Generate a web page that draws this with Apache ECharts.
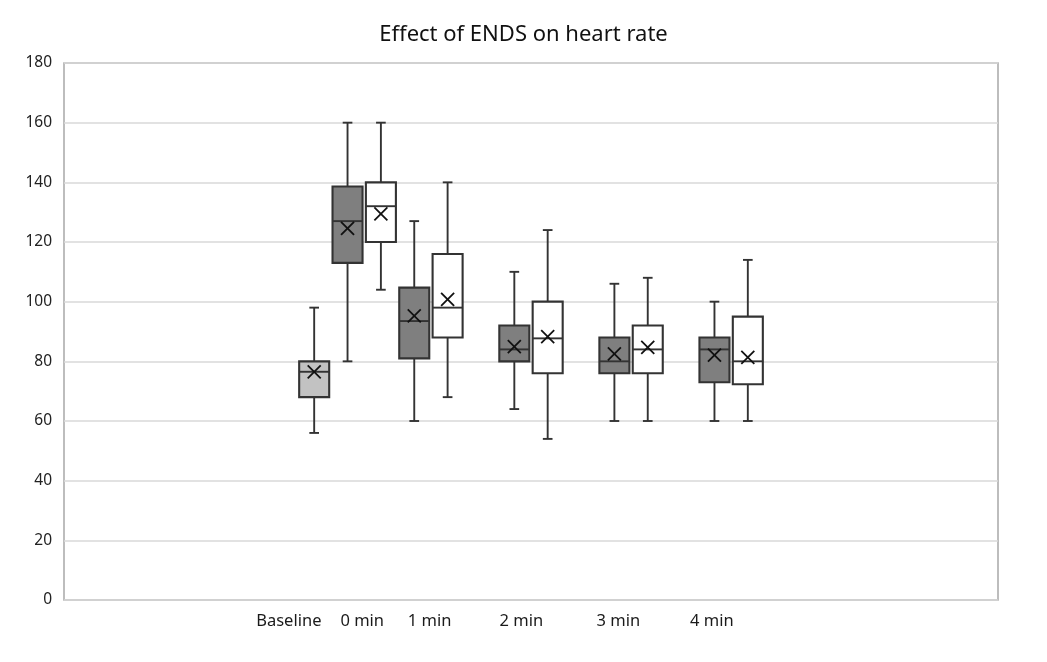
<!DOCTYPE html>
<html>
<head>
<meta charset="utf-8">
<script src="https://cdn.jsdelivr.net/npm/echarts@6/dist/echarts.min.js"></script>
<style>
html,body{margin:0;padding:0;background:#fff;}
#chart{width:1047px;height:662px;}
</style>
</head>
<body>
<div id="chart"></div>
<script>
// Category labels and where they sit along the slot axis
const categoryLabels = ['Baseline', '0 min', '1 min', '2 min', '3 min', '4 min'];
const labelSlots = [6.74, 8.94, 10.96, 13.71, 16.62, 19.42];

// Each box: [slot, min, Q1, median, Q3, max, mean]
const baselineBoxes = [
  [7.5, 56, 68, 76.5, 80, 98, 76.5]
];
const darkBoxes = [
  [8.5, 80, 113, 127, 138.6, 160, 124.6],
  [10.5, 60, 81, 93.5, 104.7, 127, 95.2],
  [13.5, 64, 80, 84, 92, 110, 84.9],
  [16.5, 60, 76, 80, 88, 106, 82.5],
  [19.5, 60, 73, 84, 88, 100, 82.1]
];
const whiteBoxes = [
  [9.5, 104, 120, 132, 140, 160, 129.4],
  [11.5, 68, 88, 98, 116, 140, 100.8],
  [14.5, 54, 76, 87.7, 100, 124, 88.3],
  [17.5, 60, 76, 84, 92, 108, 84.7],
  [20.5, 60, 72.3, 80, 95, 114, 81.3]
];
const yTicks = { min: 0, max: 180, interval: 20 };

const strokeColor = '#333333';

function makeRender(fill) {
  return function (params, api) {
    const x = api.value(0);
    const vMin = api.value(1), q1 = api.value(2), med = api.value(3),
          q3 = api.value(4), vMax = api.value(5), mean = api.value(6);
    const slotW = api.size([1, 0])[0];
    const half = slotW * 0.45;
    const cap = slotW * 0.145;
    const pMin = api.coord([x, vMin]);
    const pQ1 = api.coord([x, q1]);
    const pMed = api.coord([x, med]);
    const pQ3 = api.coord([x, q3]);
    const pMax = api.coord([x, vMax]);
    const pMean = api.coord([x, mean]);
    const cx = pMin[0];
    const ls = { stroke: strokeColor, lineWidth: 1.9 };
    const mk = 6.5;
    return {
      type: 'group',
      children: [
        { type: 'line', shape: { x1: cx, y1: pMax[1], x2: cx, y2: pQ3[1] }, style: ls },
        { type: 'line', shape: { x1: cx, y1: pQ1[1], x2: cx, y2: pMin[1] }, style: ls },
        { type: 'line', shape: { x1: cx - cap, y1: pMax[1], x2: cx + cap, y2: pMax[1] }, style: ls },
        { type: 'line', shape: { x1: cx - cap, y1: pMin[1], x2: cx + cap, y2: pMin[1] }, style: ls },
        { type: 'rect', shape: { x: cx - half, y: pQ3[1], width: half * 2, height: pQ1[1] - pQ3[1] },
          style: { fill: fill, stroke: strokeColor, lineWidth: 2.1 } },
        { type: 'line', shape: { x1: cx - half, y1: pMed[1], x2: cx + half, y2: pMed[1] }, style: ls },
        { type: 'line', shape: { x1: cx - mk, y1: pMean[1] - mk, x2: cx + mk, y2: pMean[1] + mk },
          style: { stroke: '#111', lineWidth: 1.8 } },
        { type: 'line', shape: { x1: cx - mk, y1: pMean[1] + mk, x2: cx + mk, y2: pMean[1] - mk },
          style: { stroke: '#111', lineWidth: 1.8 } }
      ]
    };
  };
}

const chart = echarts.init(document.getElementById('chart'));
chart.setOption({
  animation: false,
  backgroundColor: '#ffffff',
  title: {
    text: 'Effect of ENDS on heart rate',
    left: 'center',
    top: 19,
    textStyle: { fontFamily: 'Noto Sans', fontSize: 22, fontWeight: 'normal', color: '#111' }
  },
  grid: {
    left: 64, right: 49, top: 63, bottom: 62,
    show: true, borderColor: '#a8a8a8', borderWidth: 1.5, backgroundColor: '#fff'
  },
  xAxis: {
    type: 'value',
    min: 0,
    max: 28,
    splitLine: { show: false },
    axisLine: { show: false },
    axisTick: { show: false },
    axisLabel: {
      customValues: labelSlots,
      formatter: function (v) {
        const i = labelSlots.indexOf(v);
        return i >= 0 ? categoryLabels[i] : '';
      },
      margin: 13,
      fontFamily: 'Noto Sans',
      fontSize: 16.5,
      color: '#1a1a1a'
    }
  },
  yAxis: {
    type: 'value',
    min: yTicks.min,
    max: yTicks.max,
    interval: yTicks.interval,
    axisLine: { show: false },
    axisTick: { show: false },
    splitLine: { lineStyle: { color: '#d9d9d9', width: 1.5 } },
    axisLabel: { margin: 12, fontFamily: 'Noto Sans', fontSize: 15.5, color: '#222' }
  },
  series: [
    { type: 'custom', name: 'Baseline', renderItem: makeRender('#c2c2c2'),
      encode: { x: 0, y: [1, 2, 3, 4, 5, 6] }, data: baselineBoxes },
    { type: 'custom', name: 'Group A', renderItem: makeRender('#7f7f7f'),
      encode: { x: 0, y: [1, 2, 3, 4, 5, 6] }, data: darkBoxes },
    { type: 'custom', name: 'Group B', renderItem: makeRender('#ffffff'),
      encode: { x: 0, y: [1, 2, 3, 4, 5, 6] }, data: whiteBoxes }
  ]
});
</script>
</body>
</html>
